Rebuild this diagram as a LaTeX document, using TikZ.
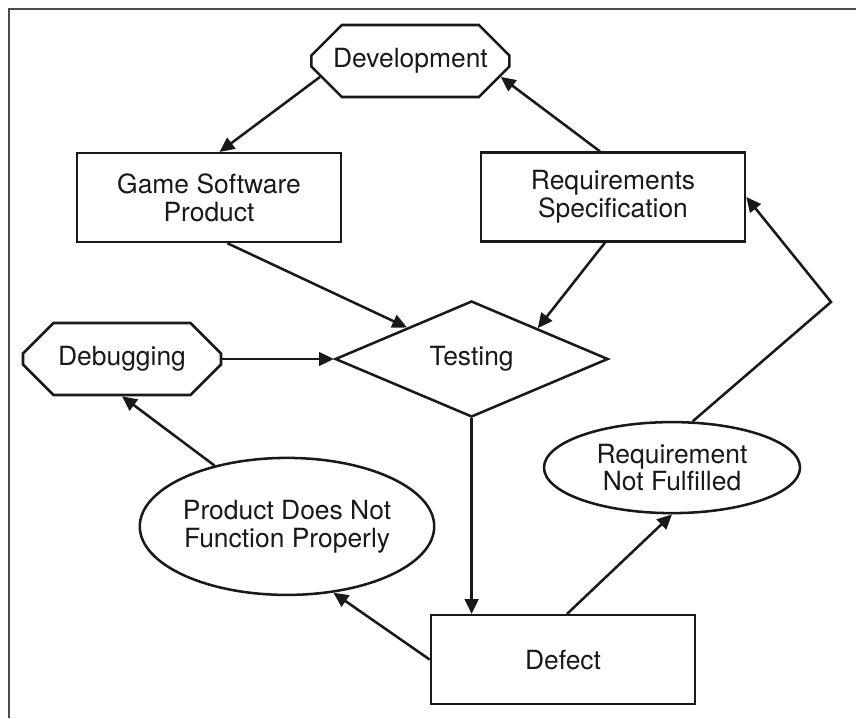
\documentclass[tikz,border=0pt]{standalone}
\usepackage{fontspec}
\setmainfont{TeX Gyre Heros}
\usetikzlibrary{arrows.meta,positioning,shapes.geometric,shapes.misc,calc}

\begin{document}
\begin{tikzpicture}[
    line width=1.8pt,
    every node/.style={font=\fontsize{18.8}{19.8}\selectfont, align=center, text=black!90},
    block/.style={draw=black!90, rectangle, minimum width=6.6cm, minimum height=2.22cm},
    octa/.style={draw=black!90, chamfered rectangle, chamfered rectangle xsep=0.6cm, chamfered rectangle ysep=0.45cm, minimum width=4.95cm, minimum height=1.8cm, inner sep=0pt},
    decision/.style={draw=black!90, diamond, minimum width=6.825cm, minimum height=2.9cm, inner sep=0pt},
    outcome/.style={draw=black!90, ellipse, inner sep=0pt},
    arrow/.style={-{Triangle[length=3.7mm,width=3.4mm]}, draw=black!90}
  ]
    \useasboundingbox (0,0) rectangle (21.4,-17.95);
    \draw[black!70, line width=1.4pt] (0.225,-17.95) -- (0.225,-0.225) -- (21.4,-0.225);

    \node[octa] (dev) at (10.26,-1.525) {Development};
    \node[block] (game) at (5.225,-4.94) {Game Software\\Product};
    \node[block] (req) at (15.325,-4.925) {Requirements\\Specification};
    \node[decision] (test) at (11.79,-8.975) {Testing};
    \node[octa] (debug) at (3.05,-8.975) {Debugging};
    \node[outcome, minimum width=7.3cm, minimum height=3.425cm] (prod) at (7.175,-13.16) {Product Does Not\\Function Properly};
    \node[outcome, minimum width=6.4cm, minimum height=2.275cm] (reqnf) at (16.8,-11.69) {Requirement\\Not Fulfilled};
    \node[block] (defect) at (14.075,-16.49) {Defect};
    \coordinate (bend) at (20.775,-7.55);

    \draw[arrow] (dev.190) -- (game.77);
    \draw[arrow] (req.106) -- (dev.350);
    \draw[arrow] (game.-68) -- (test.154);
    \draw[arrow] (req.-100) -- (test.25);
    \draw[arrow] (debug.east) -- (test.west);
    \draw[arrow] (test.south) -- (test.south |- defect.north);
    \draw[arrow] (defect.west) -- (prod.-55);
    \draw[arrow] (prod.140) -- (debug.south);
    \draw[arrow] ([xshift=1mm]defect.north) -- (reqnf.south);
    \draw[arrow] (reqnf.66) -- (bend) -- (req.east);
  \end{tikzpicture}
\end{document}
